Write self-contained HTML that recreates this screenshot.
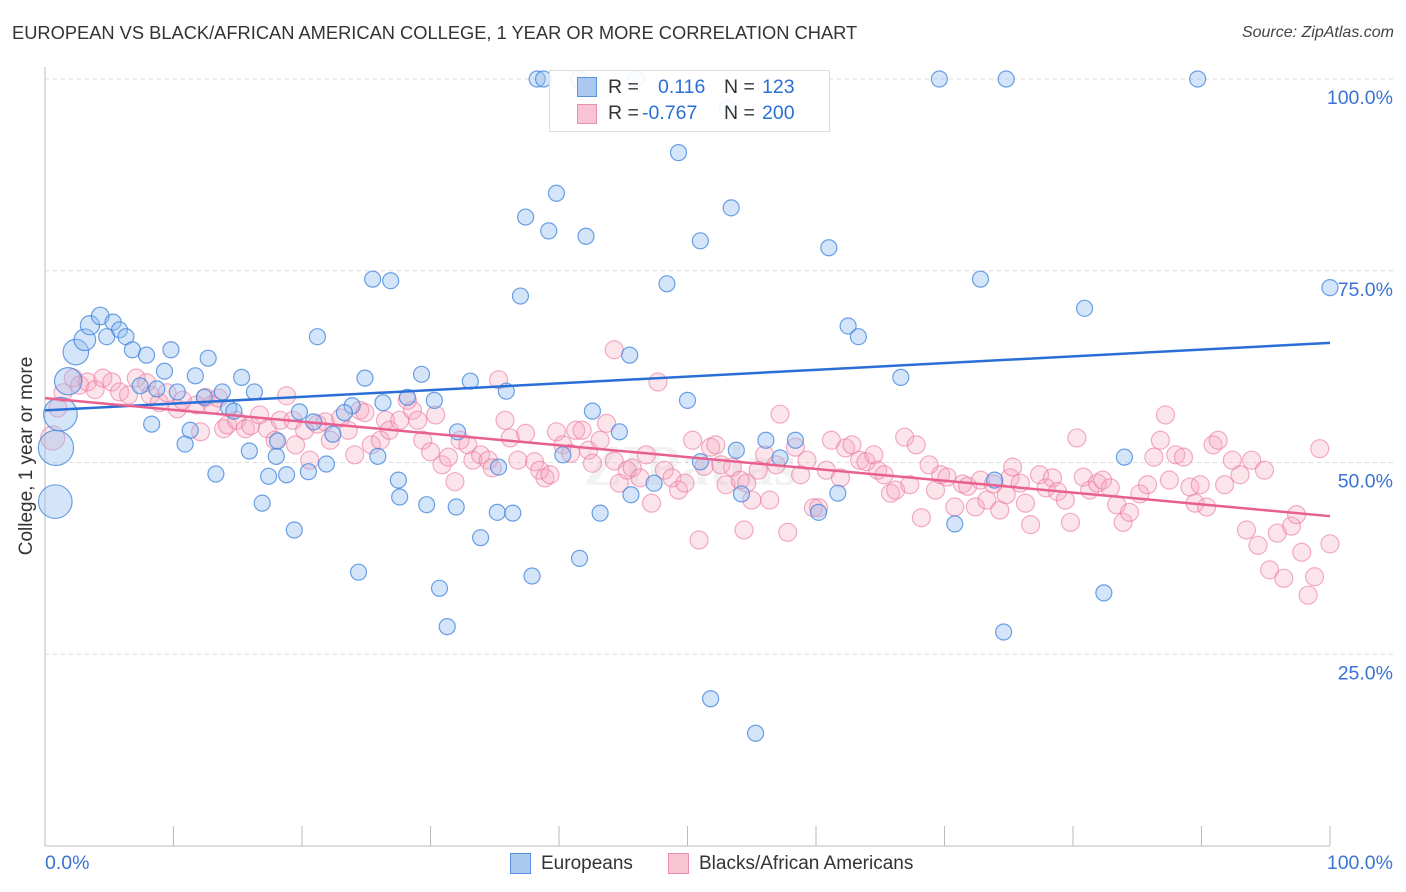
<!DOCTYPE html>
<html><head><meta charset="utf-8"><style>
body{margin:0;background:#fff;font-family:"Liberation Sans",sans-serif;}
#wrap{position:relative;width:1406px;height:892px;overflow:hidden;}
.t{position:absolute;white-space:nowrap;}
</style></head><body>
<div id="wrap">
<div class="t" style="left:12px;top:22px;font-size:18.3px;color:#333;">EUROPEAN VS BLACK/AFRICAN AMERICAN COLLEGE, 1 YEAR OR MORE CORRELATION CHART</div>
<div class="t" style="right:12px;top:24px;font-size:16px;color:#444;font-style:italic;">Source: ZipAtlas.com</div>
<svg id="plot" width="1406" height="892" style="position:absolute;left:0;top:0"></svg>
</div>
<script>
const blueData=[[38.3,100],[38.8,100],[41.5,100],[46.0,100],[69.6,100],[74.8,100],[89.7,100],[53.1,96.2],[49.3,90.4],[39.8,85.1],[37.4,82.0],[53.4,83.2],[39.2,80.2],[42.1,79.5],[51.0,78.9],[61.0,78.0],[25.5,73.9],[26.9,73.7],[72.8,73.9],[48.4,73.3],[37.0,71.7],[100,72.8],[80.9,70.1],[62.5,67.8],[63.3,66.4],[21.2,66.4],[45.5,64.0],[66.6,61.1],[33.1,60.6],[29.3,61.5],[24.9,61.0],[35.9,59.3],[28.2,58.5],[30.3,58.1],[26.3,57.8],[50.0,58.1],[42.6,56.7],[23.9,57.4],[23.3,56.5],[19.8,56.6],[20.9,55.3],[22.4,53.7],[44.7,54.0],[32.1,54.0],[56.1,52.9],[58.4,52.9],[53.8,51.6],[25.9,50.8],[40.3,51.0],[51.0,50.1],[57.2,50.6],[21.9,49.8],[35.3,49.4],[84.0,50.7],[27.5,47.7],[47.4,47.3],[45.6,45.8],[54.2,45.9],[61.7,46.0],[73.9,47.7],[27.6,45.5],[29.7,44.5],[32.0,44.2],[35.2,43.5],[36.4,43.4],[43.2,43.4],[60.2,43.5],[70.8,42.0],[19.4,41.2],[33.9,40.2],[41.6,37.5],[24.4,35.7],[37.9,35.2],[30.7,33.6],[82.4,33.0],[31.3,28.6],[74.6,27.9],[51.8,19.2],[55.3,14.7],
[0.8,44.9],[0.85,51.9],[1.2,56.3],[1.8,60.6],[2.4,64.4],[3.1,66.0],[3.5,67.9],[4.3,69.1],[5.3,68.3],[5.8,67.3],[4.8,66.4],[6.3,66.4],[6.8,64.7],[7.9,64.0],[9.8,64.7],[9.3,61.9],[12.7,63.6],[11.7,61.3],[15.3,61.1],[7.4,60.0],[8.7,59.6],[10.3,59.2],[13.8,59.2],[16.3,59.2],[12.4,58.5],[14.3,57.1],[14.7,56.7],[8.3,55.0],[11.3,54.2],[10.9,52.4],[15.9,51.5],[18.0,50.8],[13.3,48.5],[17.4,48.2],[18.8,48.4],[20.5,48.8],[16.9,44.7],[18.1,52.8]];
const blueWeight={79:2.1,80:2.2,81:2.1,82:1.7,83:1.6,84:1.35,85:1.2,86:1.1};
const pinkData=[[0.6,53.2],[1.0,57.1],[1.4,59.1],[2.2,61.0],[2.7,60.1],[3.3,60.5],[3.9,59.5],[4.5,61.0],[5.2,60.5],[5.8,59.2],[6.5,58.8],[7.1,61.0],[7.9,60.4],[8.2,58.8],[8.9,57.8],[9.5,59.1],[10.3,57.0],[10.7,58.1],[11.8,57.5],[12.1,54.0],[12.5,58.5],[13.0,57.5],[13.5,58.4],[13.9,54.4],[14.2,54.9],[14.9,55.5],[15.6,54.4],[16.0,54.8],[16.7,56.2],[17.3,54.4],[17.9,52.9],[18.3,55.5],[18.8,58.7],[19.3,55.5],[19.5,52.3],[20.2,54.2],[20.6,50.3],[21.2,55.0],[21.8,55.3],[22.2,52.9],[23.0,55.8],[23.6,54.2],[24.1,51.0],[24.5,56.8],[24.9,56.5],[25.4,52.3],[26.1,52.9],[26.5,55.5],[26.8,54.2],[27.6,55.5],[28.2,58.1],[28.6,56.8],[29.0,55.5],[29.4,52.9],[30.0,51.4],[30.4,56.2],[30.9,49.7],[31.4,50.7],[31.9,47.5],[32.3,52.9],[32.9,52.3],[33.3,50.3],[33.9,51.0],[34.5,50.3],[34.8,49.3],[35.3,60.8],[35.8,55.5],[36.2,53.2],[36.8,50.3],[37.4,53.8],[38.1,50.1],[38.5,49.0],[38.9,48.0],[39.3,48.4],[39.8,54.0],[40.3,52.3],[40.9,51.2],[41.3,54.2],[41.8,54.2],[42.3,51.6],[42.6,49.9],[43.2,52.9],[43.7,55.1],[44.3,64.7],[44.3,50.2],[44.7,47.3],[45.3,49.0],[45.7,49.3],[46.3,48.0],[46.8,51.0],[47.2,44.7],[47.7,60.5],[48.2,49.0],[48.8,48.0],[49.3,46.4],[49.8,47.3],[50.4,52.9],[50.9,39.9],[51.3,49.5],[51.8,52.0],[52.2,52.3],[52.6,49.7],[53.0,47.1],[53.5,49.4],[54.1,47.7],[54.4,41.2],[54.6,47.3],[55.0,45.1],[55.5,49.0],[56.0,51.0],[56.4,45.1],[56.9,49.7],[57.2,56.3],[57.8,40.9],[58.4,52.0],[58.8,48.4],[59.3,50.3],[59.8,44.1],[60.2,44.1],[60.8,49.0],[61.2,52.9],[61.9,48.0],[62.3,51.9],[62.8,52.3],[63.4,50.3],[63.9,50.1],[64.5,51.0],[64.8,49.0],[65.3,48.4],[65.8,46.0],[66.2,46.4],[66.9,53.3],[67.3,47.1],[67.8,52.3],[68.2,42.8],[68.8,49.7],[69.3,46.4],[69.7,48.4],[70.2,48.1],[70.8,44.2],[71.4,47.2],[71.8,46.9],[72.4,44.2],[72.8,47.7],[73.3,45.1],[73.8,47.2],[74.3,43.8],[74.8,45.8],[75.1,48.0],[75.3,49.4],[75.9,47.3],[76.3,44.7],[76.7,41.9],[77.4,48.4],[77.9,46.7],[78.4,48.0],[78.8,46.2],[79.4,45.1],[79.8,42.2],[80.3,53.2],[80.8,48.1],[81.3,46.4],[81.9,47.3],[82.3,47.7],[82.9,46.7],[83.4,44.5],[83.9,42.2],[84.4,43.5],[85.2,45.9],[85.8,47.1],[86.3,50.7],[86.8,52.9],[87.2,56.2],[87.5,47.7],[88.0,51.0],[88.6,50.7],[89.1,46.8],[89.5,44.7],[89.9,47.1],[90.4,44.2],[90.9,52.3],[91.3,52.9],[91.8,47.1],[92.4,50.3],[93.0,48.4],[93.5,41.2],[93.9,50.3],[94.4,39.2],[94.9,49.0],[95.3,36.0],[95.9,40.8],[96.4,34.9],[97.0,41.7],[97.4,43.2],[97.8,38.3],[98.3,32.7],[98.8,35.1],[99.2,51.8],[100,39.4]];
const blueTrend=[56.8,65.6];
const pinkTrend=[58.4,43.0];
const yTicks=[100,75,50,25];
const yTickLabels=["100.0%","75.0%","50.0%","25.0%"];
const xTickVals=[0,10,20,30,40,50,60,70,80,90,100];

const NS="http://www.w3.org/2000/svg";
const svg=document.getElementById('plot');
const X=v=>45+v*12.85;
const Y=v=>846-v*7.67;
function mk(tag,attrs,parent){const e=document.createElementNS(NS,tag);for(const k in attrs)e.setAttribute(k,attrs[k]);(parent||svg).appendChild(e);return e;}

for(let i=0;i<yTicks.length;i++){
  const g=mk('line',{x1:45,x2:1393,y1:Y(yTicks[i]),y2:Y(yTicks[i]),stroke:'#dcdcdc','stroke-dasharray':'4,4'});
  
  
  const t=mk('text',{x:1393,y:Y(yTicks[i])+25,'text-anchor':'end','font-size':19.5,fill:'#3b73d4','font-family':'Liberation Sans, sans-serif'});
  t.textContent=yTickLabels[i];
  
  
}
const ax=mk('line',{x1:45,x2:45,y1:67,y2:846,stroke:'#bbb'});


const bx=mk('line',{x1:45,x2:1330,y1:846,y2:846,stroke:'#bbb'});


xTickVals.forEach(v=>{const l=mk('line',{x1:X(v),x2:X(v),y1:826,y2:846,stroke:'#bbb'});
  
  });

const wm=mk('text',{x:690,y:485,'text-anchor':'middle','font-size':58,fill:'#000','fill-opacity':0.05,'font-weight':'bold','font-family':'Liberation Serif, serif'});
wm.textContent='ZIPatlas';



pinkData.forEach((d,i)=>{const c=mk('circle',{cx:X(d[0]),cy:Y(d[1]),r:i===0?12:9,fill:'rgba(245,165,190,0.3)',stroke:'rgba(235,120,160,0.6)','stroke-width':1.2});
  
  });
blueData.forEach((d,i)=>{const w=blueWeight[i]||1;const c=mk('circle',{cx:X(d[0]),cy:Y(d[1]),r:8*w,fill:'rgba(150,190,240,0.4)',stroke:'rgba(60,130,220,0.75)','stroke-width':1.2});
  
  });

const bl=mk('line',{x1:X(0),x2:X(100),y1:Y(blueTrend[0]),y2:Y(blueTrend[1]),stroke:'#2a6fd6','stroke-width':2.5});


const pl=mk('line',{x1:X(0),x2:X(100),y1:Y(pinkTrend[0]),y2:Y(pinkTrend[1]),stroke:'#e8608f','stroke-width':2.5});


</script>
<div class="t" style="left:27px;top:456px;font-size:19px;color:#333;transform:translate(-50%,-50%) rotate(-90deg);">College, 1 year or more</div>
<div class="t" style="left:45px;top:852px;font-size:19.5px;color:#3b73d4;">0.0%</div>
<div class="t" style="right:13px;top:852px;font-size:19.5px;color:#3b73d4;">100.0%</div>
<div style="position:absolute;left:549px;top:70px;width:279px;height:60px;border:1px solid #ddd;background:rgba(255,255,255,0.9);font-size:19.5px;">
  <div style="position:absolute;left:27px;top:6px;width:18px;height:18px;background:#aac8f0;border:1px solid #5a8fdc;"></div>
  <div class="t" style="left:58px;top:5px;color:#333;">R =</div>
  <div class="t" style="left:108px;top:5px;color:#2a6fd6;">0.116</div>
  <div class="t" style="left:174px;top:5px;color:#333;">N =</div>
  <div class="t" style="left:212px;top:5px;color:#2a6fd6;">123</div>
  <div style="position:absolute;left:27px;top:33px;width:18px;height:18px;background:#f8c4d4;border:1px solid #eb8fb0;"></div>
  <div class="t" style="left:58px;top:31px;color:#333;">R =</div>
  <div class="t" style="left:92px;top:31px;color:#2a6fd6;">-0.767</div>
  <div class="t" style="left:174px;top:31px;color:#333;">N =</div>
  <div class="t" style="left:212px;top:31px;color:#2a6fd6;">200</div>
</div>
<div style="position:absolute;left:510px;top:853px;">
  <div style="position:absolute;left:0;top:0;width:19px;height:19px;background:#aac8f0;border:1px solid #5a8fdc;"></div>
  <div class="t" style="left:31px;top:0;font-size:19px;color:#333;">Europeans</div>
</div>
<div style="position:absolute;left:668px;top:853px;">
  <div style="position:absolute;left:0;top:0;width:19px;height:19px;background:#f8c4d4;border:1px solid #eb8fb0;"></div>
  <div class="t" style="left:31px;top:0;font-size:19px;color:#333;">Blacks/African Americans</div>
</div>
</body></html>
